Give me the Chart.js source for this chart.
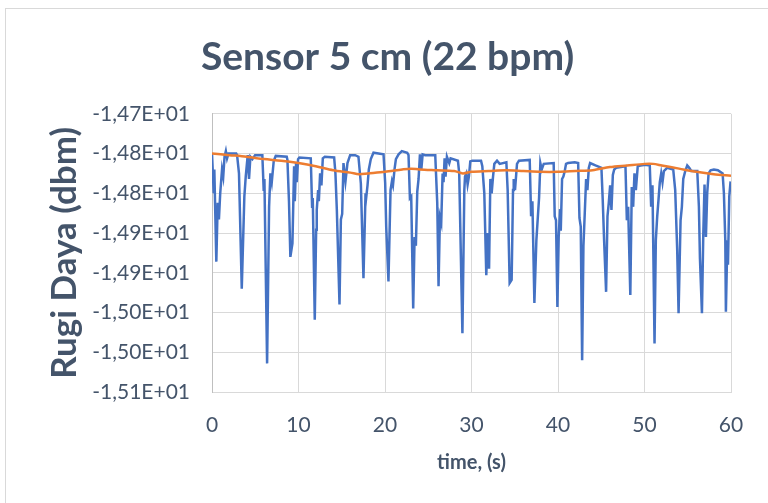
<!DOCTYPE html>
<html>
<head>
<meta charset="utf-8">
<title>Sensor 5 cm (22 bpm)</title>
<script src="https://cdn.jsdelivr.net/npm/chart.js@4.4.1/dist/chart.umd.min.js"></script>
<style>
  html, body { margin: 0; padding: 0; background: #fff; }
  #wrap { position: relative; width: 768px; height: 503px; overflow: hidden; }
  #frame { position: absolute; left: 5px; top: 8px; width: 800px; height: 600px;
           border-left: 1px solid #d9d9d9; border-top: 1px solid #d9d9d9; }
  #chartSensor { position: absolute; left: 0; top: 0; }
</style>
</head>
<body>
<div id="wrap">
  <div id="frame"></div>
  <canvas id="chartSensor" width="768" height="503"></canvas>
</div>
<script>
// raw sensor reading (time in s, loss in dBm)
const waktu = [
  0, 0.2, 0.27, 0.5, 0.66, 0.8, 0.95, 1.16, 1.3, 1.45, 1.6, 1.74, 1.9, 2.8, 2.9,
  3.12, 3.44, 3.74, 3.9, 4.13, 4.28, 4.44, 4.67, 4.98, 5.82, 5.98, 6.06, 6.37, 6.6,
  6.75, 6.91, 7.14, 7.37, 8.64, 8.72, 8.9, 9.06, 9.3, 9.49, 9.57, 9.72, 9.8, 9.95,
  10.1, 11.42, 11.57, 11.65, 11.88, 12.04, 12.11, 12.27, 12.35, 12.5, 12.65, 12.81,
  13.04, 14.12, 14.27, 14.43, 14.74, 14.9, 15.05, 15.2, 15.43, 15.66, 15.97, 16.55,
  16.93, 17.21, 17.51, 17.75, 17.82, 17.98, 18.13, 18.36, 18.67, 19.83, 20.02, 20.14,
  20.4, 20.57, 20.64, 20.8, 20.92, 21.1, 21.26, 21.57, 21.95, 22.57, 22.72, 22.88,
  23.03, 23.26, 23.42, 23.57, 23.73, 23.88, 24.04, 24.2, 24.35, 24.65, 25.81, 26.04,
  26.19, 26.35, 26.5, 26.66, 26.77, 26.89, 27.0, 27.16, 27.43, 27.58, 28.43, 28.58,
  28.95, 29.17, 29.25, 29.4, 29.55, 29.7, 29.86, 30.09, 31.1, 31.25, 31.48, 31.71,
  31.87, 32.03, 32.18, 32.33, 32.49, 32.64, 32.95, 33.26, 34.03, 34.18, 34.41, 34.64,
  34.8, 34.88, 35.03, 35.26, 35.49, 36.73, 36.89, 37.04, 37.27, 37.5, 37.81, 37.96,
  38.12, 38.35, 39.5, 39.62, 39.77, 39.93, 40.08, 40.24, 40.32, 40.47, 40.62, 40.78,
  40.93, 41.16, 41.94, 42.33, 42.48, 42.63, 42.79, 42.94, 43.09, 43.25, 43.4, 43.56,
  43.71, 44.33, 45.02, 45.17, 45.33, 45.56, 45.72, 45.87, 46.03, 46.18, 46.34, 46.5,
  46.72, 47.8, 47.96, 48.11, 48.36, 48.53, 48.69, 48.84, 49.0, 49.22, 49.53, 50.12,
  50.61, 50.77, 50.92, 51.16, 51.31, 51.47, 51.62, 51.77, 51.93, 52.08, 52.24, 52.62,
  53.32, 53.55, 53.78, 53.94, 54.17, 54.32, 54.48, 54.71, 54.94, 55.17, 55.4, 56.1,
  56.29, 56.41, 56.64, 56.79, 56.94, 57.1, 57.25, 57.41, 57.64, 58.02, 58.48, 59.03,
  59.18, 59.34, 59.41, 59.57, 59.65, 59.8, 59.95
];
const rugiDaya = [
  -14.750, -14.800, -14.770, -14.886, -14.812, -14.833, -14.800, -14.770, -14.779, -14.754, -14.747, -14.756, -14.750, -14.750, -14.752,
  -14.775, -14.920, -14.804, -14.779, -14.752, -14.782, -14.754, -14.757, -14.752, -14.752, -14.797, -14.782, -15.014, -14.817,
  -14.775, -14.786, -14.759, -14.753, -14.754, -14.758, -14.810, -14.880, -14.863, -14.766, -14.810, -14.762, -14.786, -14.757,
  -14.755, -14.756, -14.817, -14.806, -14.959, -14.846, -14.821, -14.796, -14.810, -14.775, -14.790, -14.756,
  -14.754, -14.755, -14.775, -14.820, -14.940, -14.833, -14.826, -14.762, -14.785, -14.762, -14.752, -14.752,
  -14.754, -14.788, -14.907, -14.800, -14.806, -14.790, -14.770, -14.757, -14.749, -14.751, -14.787, -14.842,
  -14.911, -14.829, -14.796, -14.785, -14.790, -14.770, -14.757, -14.751, -14.747, -14.749, -14.752, -14.806,
  -14.804, -14.945, -14.855, -14.866, -14.798, -14.782, -14.751, -14.770, -14.751, -14.752, -14.752, -14.812,
  -14.917, -14.830, -14.837, -14.775, -14.786, -14.756, -14.779, -14.754, -14.762, -14.756, -14.759, -14.775,
  -14.976, -14.796, -14.779, -14.775, -14.789, -14.779, -14.760, -14.759, -14.759, -14.766, -14.800, -14.903,
  -14.850, -14.895, -14.782, -14.800, -14.779, -14.763, -14.759, -14.763, -14.761, -14.796, -14.913, -14.909,
  -14.796, -14.782, -14.796, -14.763, -14.759, -14.758, -14.829, -14.810, -14.938, -14.859, -14.806, -14.762,
  -14.770, -14.763, -14.762, -14.829, -14.834, -14.943, -14.855, -14.820, -14.847, -14.782, -14.779, -14.772,
  -14.763, -14.762, -14.761, -14.762, -14.831, -14.842, -15.010, -14.866, -14.826, -14.782, -14.796, -14.768,
  -14.762, -14.765, -14.768, -14.808, -14.859, -14.924, -14.829, -14.812, -14.790, -14.821, -14.777, -14.770,
  -14.768, -14.766, -14.834, -14.817, -14.928, -14.792, -14.817, -14.775, -14.796, -14.766, -14.765, -14.764,
  -14.765, -14.817, -14.790, -14.989, -14.859, -14.829, -14.808, -14.786, -14.775, -14.786, -14.772, -14.768,
  -14.770, -14.796, -14.871, -14.951, -14.834, -14.817, -14.782, -14.772, -14.765, -14.768, -14.772, -14.772,
  -14.817, -14.882, -14.951, -14.855, -14.789, -14.855, -14.800, -14.775, -14.771, -14.770, -14.771, -14.775,
  -14.800, -14.859, -14.949, -14.863, -14.890, -14.804, -14.785
];

// slow baseline under the pulses
const waktuBaseline = [
  0, 2, 4, 6, 8, 10, 12, 14, 16, 17, 18, 20, 22, 23, 24, 26, 28, 29, 30, 32,
  34, 36, 38, 40, 42, 44, 46, 48, 50, 51, 52, 54, 56, 58, 60
];
const rugiBaseline = [
  -14.750, -14.752, -14.754, -14.757, -14.759, -14.762, -14.766, -14.771, -14.774, -14.776,
  -14.775, -14.773, -14.770, -14.769, -14.770, -14.771, -14.772, -14.775, -14.773, -14.772,
  -14.771, -14.772, -14.773, -14.773, -14.772, -14.771, -14.767, -14.765, -14.763, -14.763,
  -14.765, -14.769, -14.773, -14.776, -14.778
];

const yTicks = { min: -15.05, max: -14.70, step: 0.05 };
const xTicks = { min: 0, max: 60, step: 10 };

const warnaTeks = '#44546a';
const warnaGrid = '#d9d9d9';

// Excel style scientific label: -1,48E+01
function formatIlmiah(value) {
    if (value === 0) return '0,00E+00';
    const abs = Math.abs(value);
    let exp = Math.floor(Math.log10(abs) + 1e-9);
    let mant = Math.round(abs / Math.pow(10, exp) * 100 + 1e-7) / 100;
    if (mant >= 10) { mant = mant / 10; exp += 1; }
    const sign = value < 0 ? '-' : '';
    const expStr = (exp < 0 ? '-' : '+') + String(Math.abs(exp)).padStart(2, '0');
    return sign + mant.toFixed(2).replace('.', ',') + 'E' + expStr;
}

function tampilkanGrafik() {
    const canvas = document.getElementById('chartSensor');
    if (!canvas) {
        console.error('Canvas #chartSensor tidak ditemukan');
        return;
    }
    const ctx = canvas.getContext('2d');

    const dataSensor = waktu.map((t, i) => ({ x: t, y: rugiDaya[i] }));
    const dataBaseline = waktuBaseline.map((t, i) => ({ x: t, y: rugiBaseline[i] }));

    new Chart(ctx, {
        type: 'line',
        data: {
            datasets: [
                {
                    label: 'Sensor',
                    data: dataSensor,
                    borderColor: '#4472c4',
                    borderWidth: 2.5,
                    pointRadius: 0,
                    tension: 0,
                    order: 1
                },
                {
                    label: 'Baseline',
                    data: dataBaseline,
                    borderColor: '#ed7d31',
                    borderWidth: 2.5,
                    pointRadius: 0,
                    tension: 0.3,
                    order: 0
                }
            ]
        },
        options: {
            responsive: false,
            animation: false,
            devicePixelRatio: 1,
            layout: { padding: { left: 44, right: 37, top: 0, bottom: 20 } },
            plugins: {
                legend: { display: false },
                tooltip: { enabled: false },
                title: {
                    display: true,
                    text: 'Sensor 5 cm (22 bpm)',
                    color: warnaTeks,
                    font: { family: 'Lato', size: 39, weight: 'bold', lineHeight: 1.2 },
                    padding: { top: 34, bottom: 33 }
                }
            },
            scales: {
                x: {
                    type: 'linear',
                    min: xTicks.min,
                    max: xTicks.max,
                    ticks: {
                        stepSize: xTicks.step,
                        color: warnaTeks,
                        font: { family: 'Lato', size: 21 },
                        padding: 21,
                        maxRotation: 0
                    },
                    grid: { color: warnaGrid, drawTicks: false },
                    border: { color: warnaGrid },
                    title: {
                        display: true,
                        text: 'time, (s)',
                        color: warnaTeks,
                        font: { family: 'Lato', size: 20, weight: 'bold', lineHeight: 1.2 },
                        padding: { top: 0, bottom: 8 }
                    },
                    afterFit: (scale) => { scale.height = 91; }
                },
                y: {
                    min: yTicks.min,
                    max: yTicks.max,
                    ticks: {
                        stepSize: yTicks.step,
                        color: warnaTeks,
                        font: { family: 'Lato', size: 21 },
                        padding: 22,
                        callback: (value) => formatIlmiah(value)
                    },
                    grid: { color: warnaGrid, drawTicks: false },
                    border: { color: '#bfbfbf' },
                    title: {
                        display: true,
                        text: 'Rugi Daya (dbm)',
                        color: warnaTeks,
                        font: { family: 'Lato', size: 35, weight: 'bold', lineHeight: 1.2 },
                        padding: { top: 0, bottom: 0 }
                    },
                    afterFit: (scale) => { scale.width = 168; }
                }
            }
        }
    });
}

tampilkanGrafik();
</script>
</body>
</html>
